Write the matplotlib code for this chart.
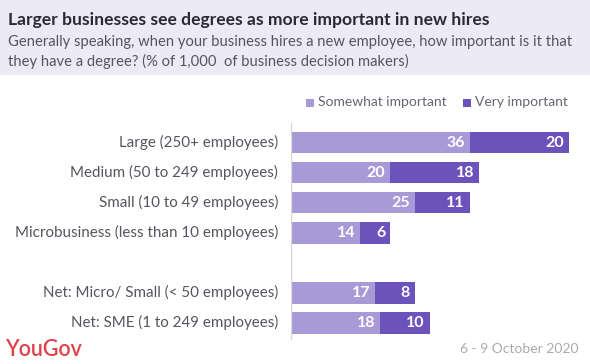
import matplotlib
matplotlib.use("Agg")
import matplotlib.pyplot as plt
from matplotlib.patches import Rectangle

categories = ["Large (250+ employees)", "Medium (50 to 249 employees)", "Small (10 to 49 employees)",
              "Microbusiness (less than 10 employees)", "", "Net: Micro/ Small (< 50 employees)",
              "Net: SME (1 to 249 employees)"]
somewhat = [36, 20, 25, 14, None, 17, 18]
very = [20, 18, 11, 6, None, 8, 10]
series_names = ["Somewhat important", "Very important"]

c_light = "#a89ad6"
c_dark = "#6c52bb"
font = "Lato"
plt.rcParams["font.family"] = [font, "DejaVu Sans"]

W, H = 590, 364
fig = plt.figure(figsize=(W/100, H/100), dpi=100)

# header band
fig.patches.append(Rectangle((0, 1 - 75/H), 1, 75/H, transform=fig.transFigure,
                             facecolor="#eceaf5", edgecolor="none", zorder=0))
fig.text(8/W, 1 - 20/H, "Larger businesses see degrees as more important in new hires",
         fontsize=12.6, fontweight="bold", color="#2a2a35", va="center", ha="left")
fig.text(8/W, 1 - 42/H, "Generally speaking, when your business hires a new employee, how important is it that",
         fontsize=10.6, color="#55555f", va="center", ha="left")
fig.text(8/W, 1 - 61/H, "they have a degree? (% of 1,000  of business decision makers)",
         fontsize=10.6, color="#55555f", va="center", ha="left")

# axes: left edge at x=291 px, 1 unit ~ 4.96 px
x0 = 291
ppu = 4.96
ax_w = W - x0
ax = fig.add_axes([x0/W, 1 - 340/H, ax_w/W, (340 - 123)/H])
ax.set_xlim(0, ax_w/ppu)
n = len(categories)
ax.set_ylim(n - 0.5 + 0.07, -0.5 - 0.15)
for i, (s, v) in enumerate(zip(somewhat, very)):
    if s is None:
        continue
    ax.barh(i, s, height=0.72, color=c_light, edgecolor="none")
    ax.barh(i, v, left=s, height=0.72, color=c_dark, edgecolor="none")
    ax.text(s - 1.0, i, str(s), ha="right", va="center", color="white", fontsize=11.5, fontweight="bold")
    ax.text(s + v - 1.0, i, str(v), ha="right", va="center", color="white", fontsize=11.5, fontweight="bold")
    ax.text(-2.6, i, categories[i], ha="right", va="center", color="#55555f", fontsize=10.9)
ax.axvline(0, color="#d5d5d5", lw=1)
ax.axis("off")

# legend
fig.patches.append(Rectangle((306/W, 1 - 107/H), 8/W, 8/H, transform=fig.transFigure,
                             facecolor=c_light, edgecolor="none"))
fig.text(318/W, 1 - 102/H, series_names[0], fontsize=10, color="#666670", va="center", ha="left")
fig.patches.append(Rectangle((463/W, 1 - 107/H), 8/W, 8/H, transform=fig.transFigure,
                             facecolor=c_dark, edgecolor="none"))
fig.text(475/W, 1 - 102/H, series_names[1], fontsize=10, color="#666670", va="center", ha="left")

# footer
fig.text(5/W, 1 - 350/H, "YouGov", fontsize=15.5, color="#e0424b", va="center", ha="left",
         fontweight="semibold")
fig.text(578/W, 1 - 349/H, "6 - 9 October 2020", fontsize=10, color="#ababab", va="center", ha="right")

fig.savefig("out.png", dpi=100)
